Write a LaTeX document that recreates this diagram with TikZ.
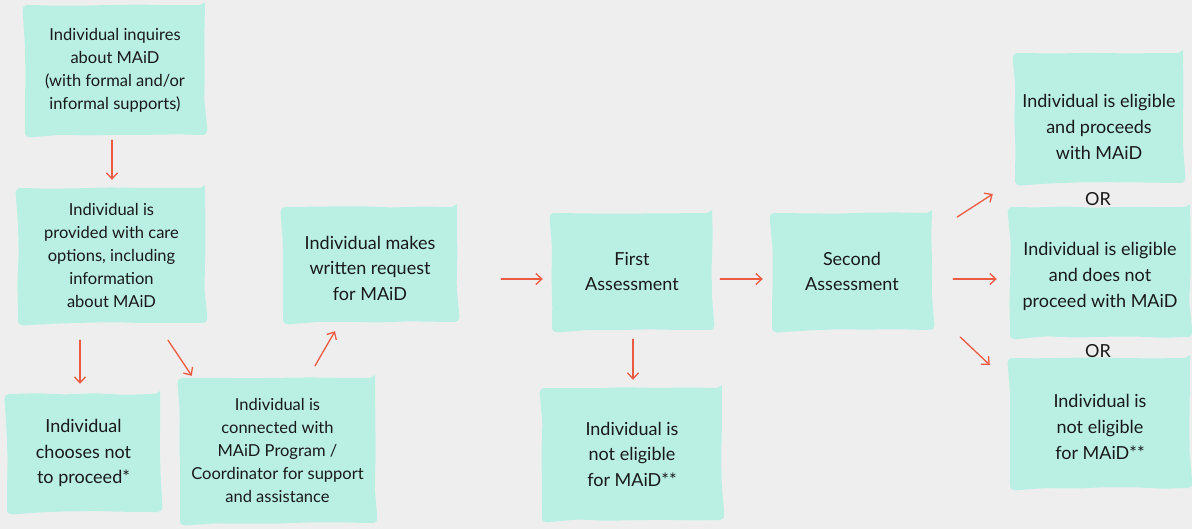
\documentclass[tikz,border=0pt]{standalone}
\usepackage{fontspec}
\setmainfont{Lato}
\usetikzlibrary{arrows.meta,calc,decorations.pathmorphing}
\definecolor{mint}{RGB}{186,240,228}
\definecolor{bg}{RGB}{238,238,238}
\definecolor{arr}{RGB}{236,90,66}
\definecolor{ink}{RGB}{25,25,25}
\begin{document}
\begin{tikzpicture}[x=1pt,y=-1pt,
  box/.style={fill=mint, align=center, inner sep=0pt, text=ink, rounded corners=5pt,
    decorate, decoration={random steps,segment length=30pt,amplitude=0.8pt}},
  small/.style={font=\fontsize{16.5}{23}\selectfont},
  big/.style={font=\fontsize{18}{25.5}\selectfont},
  right/.style={font=\fontsize{18}{26.2}\selectfont},
  conn/.style={arr, line width=1.3pt, line cap=round,
    -{Straight Barb[length=6pt,width=11pt]}},
  ortxt/.style={font=\fontsize{18}{20}\selectfont, text=ink}]
\pgfmathsetseed{7}
\fill[bg] (0,0) rectangle (1192,529);
\useasboundingbox (0,0) rectangle (1192,529);

\node[box,small,minimum width=180pt,minimum height=130pt] (n1) at (115,70)
  {Individual inquires\\about MAiD\\(with formal and/or\\informal supports)};
\node[box,small,minimum width=187pt,minimum height=135pt] (n2) at (111.5,255.5)
  {Individual is\\provided with care\\options, including\\information\\about MAiD};
\node[box,big,minimum width=153pt,minimum height=118pt] (n3) at (83.5,453)
  {Individual\\chooses not\\to proceed*};
\node[box,small,minimum width=195pt,minimum height=145pt] (n4) at (277.5,450.5)
  {Individual is\\connected with\\MAiD Program /\\Coordinator for support\\and assistance};
\node[box,big,minimum width=174pt,minimum height=115pt] (n5) at (370,264.5)
  {\rule{0pt}{20.5pt}Individual makes\\written request\\for MAiD};
\node[box,big,minimum width=160pt,minimum height=117pt] (n6) at (632,271.5)
  {First\\Assessment};
\node[box,big,minimum width=160pt,minimum height=117pt] (n7) at (852,271.5)
  {Second\\Assessment};
\node[box,big,minimum width=180pt,minimum height=132pt] (n8) at (632,454)
  {Individual is\\not eligible\\for MAiD**};
\node[box,right,minimum width=168pt,minimum height=130pt] (n9) at (1099,118)
  {\rule{0pt}{31.5pt}Individual is eligible\\and proceeds\\with MAiD};
\node[box,right,minimum width=180pt,minimum height=130pt] (n10) at (1100,272)
  {\rule{0pt}{21.5pt}Individual is eligible\\and does not\\proceed with MAiD};
\node[box,right,minimum width=180pt,minimum height=130pt] (n11) at (1100,423)
  {\rule{0pt}{21.5pt}Individual is\\not eligible\\for MAiD**};

\node[ortxt] (or1) at (1098,199) {OR};
\node[ortxt] (or2) at (1098,351) {OR};

\draw[conn] ($(n1.south)+(-3,5)$) -- ($(n2.north)+(0.5,-8)$);
\draw[conn] ($(n2.south)+(-31.5,17)$) -- ($(n3.north)+(-3.5,-10)$);
\draw[conn] ($(n2.south)+(56.5,17)$) -- ($(n4.north west)+(12,-2)$);
\draw[conn] ($(n4.north)+(37.5,-12)$) -- ($(n5.south)+(-35,9)$);
\draw[conn] ($(n5.east)+(44,14.5)$) -- ($(n6.west)+(-9,7.5)$);
\draw[conn] ($(n6.east)+(8,7.5)$) -- ($(n7.west)+(-9,7.5)$);
\draw[conn] ($(n6.south)+(1,9)$) -- ($(n8.north)+(1,-8)$);
\draw[conn] ($(n7.east)+(25,-54.5)$) -- ($(n9.west)+(-22,76)$);
\draw[conn] ($(n7.east)+(21,7.5)$) -- ($(n10.west)+(-13,7)$);
\draw[conn] ($(n7.east)+(28,65.5)$) -- ($(n11.west)+(-20,-58)$);
\end{tikzpicture}
\end{document}
